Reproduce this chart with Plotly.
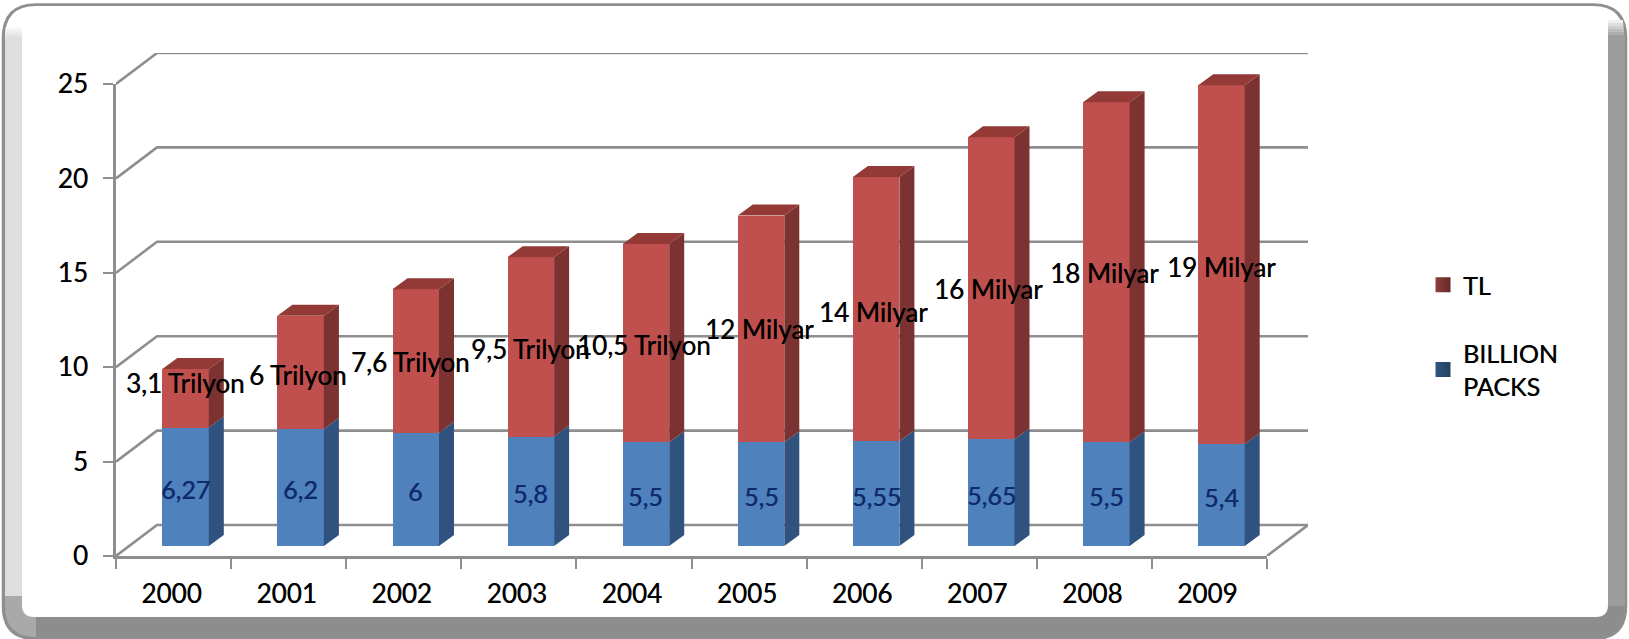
import plotly.graph_objects as go

# Chart data
years = ["2000", "2001", "2002", "2003", "2004", "2005", "2006", "2007", "2008", "2009"]
packs = [6.27, 6.2, 6, 5.8, 5.5, 5.5, 5.55, 5.65, 5.5, 5.4]
lira = [3.1, 6, 7.6, 9.5, 10.5, 12, 14, 16, 18, 19]
pack_labels = ["6,27", "6,2", "6", "5,8", "5,5", "5,5", "5,55", "5,65", "5,5", "5,4"]
lira_labels = ["3,1 Trilyon", "6 Trilyon", "7,6 Trilyon", "9,5 Trilyon", "10,5 Trilyon",
               "12 Milyar", "14 Milyar", "16 Milyar", "18 Milyar", "19 Milyar"]
lira_label_dx = [0, -3, -5, 0, -2, -2, -3, -3, -2, 0]
lira_label_dy = [15, -3, -1, -2, -2, 0, -3, -1, -1, -2]
y_ticks = [0, 5, 10, 15, 20, 25]

W, H = 1629, 639
FONT = "Lato"
AXIS_GRAY = "#8e8e8e"
HEAVY = "0.4px 0 0.4px rgba(0,0,0,0.8)"

# Pixel layout of the front plane and the depth offsets of the pseudo-3D box
LEFT, RIGHT, BOTTOM, TOP = 116, 1267, 556, 84
BOX_DX, BOX_DY = 41, 31
BAR_SHIFT_X, BAR_SHIFT_Y = 12, 10
BAR_DX, BAR_DY = 15, 11
BAR_WIDTH = 0.404
cat_px = (RIGHT - LEFT) / len(years)
unit_px = (BOTTOM - TOP) / 25


def fx(px):
    return px / W


def fy(py):
    return 1 - py / H


def path(points, close=True):
    cmds = []
    for item in points:
        if len(item) == 2:
            cmds.append(f"L {fx(item[0]):.5f} {fy(item[1]):.5f}")
        else:
            cx, cy, ex, ey = item[1:]
            cmds.append(f"Q {fx(cx):.5f} {fy(cy):.5f} {fx(ex):.5f} {fy(ey):.5f}")
    cmds[0] = "M" + cmds[0][1:]
    return " ".join(cmds) + (" Z" if close else "")


def frame_shape(points, fill, line=None, width=0):
    return dict(type="path", xref="paper", yref="paper", layer="below", path=path(points),
                fillcolor=fill, line=dict(color=line or fill, width=width))


def band(x0, y0, x1, y1, color):
    return dict(type="rect", xref="paper", yref="paper", layer="below", x0=fx(x0), x1=fx(x1),
                y0=fy(y0), y1=fy(y1), fillcolor=color, line=dict(width=0))


# Rounded bevelled frame around the chart
shapes = [
    frame_shape([(36, 4.5), (1593, 4.5), ("q", 1626, 4.5, 1626, 38), (1626, 606),
                 ("q", 1626, 639, 1593, 639), (36, 639), ("q", 3, 639, 3, 606),
                 (3, 38), ("q", 3, 4.5, 36, 4.5)], "#8d8d8d", "#8f8f8f", 2.5),
    band(5, 36, 22, 596, "#dedede"),
    band(1608, 36, 1625, 606, "#9c9c9c"),
    frame_shape([(5, 596), (22, 596), ("q", 22, 617, 36, 617), (36, 637), ("q", 5, 637, 5, 606)], "#a9a9a9"),
    frame_shape([(36, 6), (1593, 6), ("q", 1624, 6, 1624, 38), (1608, 38), (1608, 605),
                 ("q", 1608, 617, 1596, 617), (34, 617), ("q", 22, 617, 22, 605),
                 (22, 38), (5, 38), ("q", 5, 6, 36, 6)], "#ffffff"),
]
# Soft fade at the upper end of the side bands
for step in range(6):
    shade_left = 255 - (255 - 222) * (step + 1) // 6
    shade_right = 255 - (255 - 156) * (step + 1) // 6
    shapes.append(band(5.5, 27 + step * 2, 22, 29 + step * 2, f"rgb({shade_left},{shade_left},{shade_left})"))
    shapes.append(band(1608, 20 + step * 3, 1623 + step * 0.3, 23 + step * 3, f"rgb({shade_right},{shade_right},{shade_right})"))

totals = [p + q for p, q in zip(packs, lira)]
half = BAR_WIDTH / 2
dx = BAR_DX / cat_px
dy = BAR_DY / unit_px


def faces(kind, lower, upper):
    xs, ys = [], []
    for i, (lo, up) in enumerate(zip(lower, upper)):
        if kind == "side":
            poly = [(i + half, lo), (i + half + dx, lo + dy), (i + half + dx, up + dy), (i + half, up)]
        else:
            poly = [(i - half, up), (i - half + dx, up + dy), (i + half + dx, up + dy), (i + half, up)]
        xs += [p[0] for p in poly] + [poly[0][0], None]
        ys += [p[1] for p in poly] + [poly[0][1], None]
    return xs, ys


fig = go.Figure()

# Wall and floor lines of the box; these axes span the front plane plus the depth offset
box_dx = BOX_DX / cat_px
box_dy = BOX_DY / unit_px
grid_x, grid_y = [], []
for v in y_ticks:
    grid_x += [-0.5, -0.5 + box_dx, 9.5 + box_dx, None]
    grid_y += [v, v + box_dy, v + box_dy, None]
grid_x += [9.5, 9.5 + box_dx]
grid_y += [0, box_dy]
fig.add_trace(go.Scatter(x=grid_x, y=grid_y, mode="lines", line=dict(color=AXIS_GRAY, width=2.6),
                         showlegend=False, hoverinfo="skip", xaxis="x", yaxis="y"))

# Stacked bars and their side and top faces
fig.add_trace(go.Bar(x=list(range(10)), y=packs, width=BAR_WIDTH, marker=dict(color="#4f81bd", line=dict(width=0)),
                     showlegend=False, xaxis="x2", yaxis="y2"))
fig.add_trace(go.Bar(x=list(range(10)), y=lira, width=BAR_WIDTH, marker=dict(color="#c0504d", line=dict(width=0)),
                     showlegend=False, xaxis="x2", yaxis="y2"))
for kind, lower, upper, color in [
    ("side", [0] * 10, packs, "#30527e"),
    ("side", packs, totals, "#7b3230"),
    ("top", totals, totals, "#933a37"),
]:
    xs, ys = faces(kind, lower, upper)
    fig.add_trace(go.Scatter(x=xs, y=ys, mode="lines", fill="toself", fillcolor=color, line=dict(width=0),
                             cliponaxis=False, showlegend=False, hoverinfo="skip", xaxis="x2", yaxis="y2"))

# Front axes: value ticks and year labels between boundary ticks
fig.add_trace(go.Scatter(x=years, y=[0] * 10, mode="markers", marker=dict(opacity=0), showlegend=False,
                         hoverinfo="skip", xaxis="x3", yaxis="y3"))

# Legend swatches
fig.add_trace(go.Scatter(x=[None], y=[None], mode="markers", name="TL", legendgroup="tl",
                         marker=dict(symbol="square", size=15, color="#8f3f3c",
                                     gradient=dict(type="horizontal", color="#652826"))))
fig.add_trace(go.Scatter(x=[None], y=[None], mode="markers", name="BILLION<br>PACKS", legendgroup="packs",
                         marker=dict(symbol="square", size=15, color="#2f5680",
                                     gradient=dict(type="horizontal", color="#24405f"))))

# Value labels
annotations = []
for i in range(10):
    annotations.append(dict(x=i, y=packs[i] / 2, xref="x2", yref="y2", text=pack_labels[i], showarrow=False,
                            yshift=-2,
                            font=dict(family=FONT, size=25, color="#0f2a6b",
                                      shadow="0.5px 0 0.4px rgba(15,42,107,0.85)")))
    annotations.append(dict(x=i, y=packs[i] + lira[i] / 2, xref="x2", yref="y2", text=lira_labels[i],
                            showarrow=False, xshift=lira_label_dx[i], yshift=lira_label_dy[i],
                            font=dict(family=FONT, size=26, color="#000000", shadow=HEAVY)))

front_x = [fx(LEFT), fx(RIGHT)]
front_y = [fy(BOTTOM), fy(TOP)]
bar_x = [fx(LEFT + BAR_SHIFT_X), fx(RIGHT + BAR_SHIFT_X)]
bar_y = [fy(BOTTOM - BAR_SHIFT_Y), fy(TOP - BAR_SHIFT_Y)]
hidden = dict(visible=False, fixedrange=True)
axis_font = dict(family=FONT, size=26, shadow=HEAVY)

fig.update_layout(
    width=W, height=H, autosize=False,
    margin=dict(l=0, r=0, t=0, b=0, autoexpand=False),
    paper_bgcolor="#ffffff", plot_bgcolor="rgba(0,0,0,0)",
    barmode="stack", shapes=shapes, annotations=annotations,
    font=dict(family=FONT, color="#000000"),
    xaxis=dict(domain=[fx(LEFT), fx(RIGHT + BOX_DX)], range=[-0.5, 9.5 + box_dx], anchor="y", **hidden),
    yaxis=dict(domain=[fy(BOTTOM), fy(TOP - BOX_DY)], range=[0, 25 + box_dy], anchor="x", **hidden),
    xaxis2=dict(domain=bar_x, range=[-0.5, 9.5], anchor="y2", **hidden),
    yaxis2=dict(domain=bar_y, range=[0, 25], anchor="x2", **hidden),
    xaxis3=dict(domain=front_x, type="category", categoryarray=years, categoryorder="array", anchor="y3",
                range=[-0.5, 9.5], tickson="boundaries", showgrid=False, zeroline=False, showline=True,
                linecolor=AXIS_GRAY, linewidth=2.6, ticks="outside", ticklen=10, tickwidth=2, tickcolor=AXIS_GRAY,
                ticklabelstandoff=13, ticklabelshift=-2, tickfont=axis_font, fixedrange=True),
    yaxis3=dict(domain=front_y, range=[0, 25], anchor="x3", tickvals=y_ticks, showgrid=False, zeroline=False,
                showline=True, linecolor=AXIS_GRAY, linewidth=2.6, ticks="outside", ticklen=10, tickwidth=2,
                tickcolor=AXIS_GRAY, ticklabelstandoff=10, tickfont=axis_font, fixedrange=True),
    legend=dict(x=fx(1423), y=fy(262), xanchor="left", yanchor="top", bgcolor="rgba(0,0,0,0)",
                traceorder="grouped", tracegroupgap=33, itemsizing="trace", itemwidth=30,
                font=dict(family=FONT, size=25, shadow=HEAVY)),
)

fig.write_html("out.html")
